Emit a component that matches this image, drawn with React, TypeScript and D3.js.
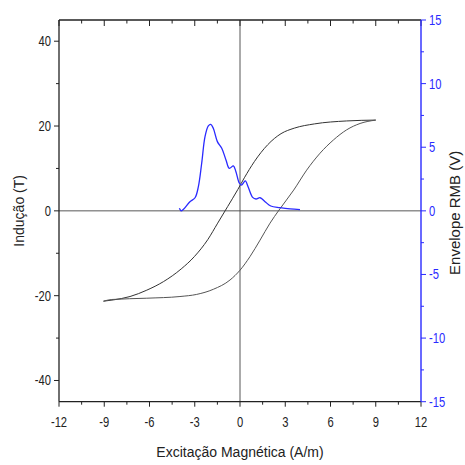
import React from "react";
import * as d3 from "d3";

// Hysteresis loop – descending branch (from +Hmax to -Hmax)
const loopDescH = [9.0, 7.07, 4.93, 3.6, 2.72, 1.84, 0.95, 0.29, -0.15, -0.82, -1.48, -2.14, -3.03, -3.9, -5.08, -6.18, -7.29, -8.4, -9.05];
const loopDescB = [21.4, 21.2, 20.5, 19.5, 18.2, 15.6, 11.6, 7.8, 5.0, 1.0, -2.9, -6.8, -10.8, -13.7, -16.7, -18.7, -20.2, -21.0, -21.3];
// Hysteresis loop – ascending branch (from -Hmax to +Hmax)
const loopAscH = [-9.05, -8.5, -6.18, -3.98, -2.87, -1.77, -0.66, 0.0, 0.66, 1.33, 1.99, 2.59, 3.56, 4.42, 5.31, 6.19, 7.07, 7.96, 9.0];
const loopAscB = [-21.3, -20.9, -20.6, -20.2, -19.7, -18.5, -16.3, -14.0, -10.8, -6.9, -2.9, 0.2, 4.9, 9.6, 13.6, 16.7, 19.1, 20.6, 21.4];
// Magnetic Barkhausen noise envelope
const envH = [-4.02, -3.9, -3.75, -3.32, -2.98, -2.76, -2.54, -2.32, -2.1, -1.94, -1.77, -1.5, -1.21, -0.93, -0.71, -0.44, -0.27, -0.04, 0.11, 0.35, 0.55, 0.84, 1.06, 1.33, 1.66, 2.04, 2.65, 3.32, 3.98];
const envV = [0.2, 0.0, 0.12, 0.72, 1.03, 1.9, 3.74, 5.83, 6.67, 6.8, 6.49, 5.44, 4.92, 4.0, 3.34, 3.53, 3.08, 2.17, 2.03, 2.35, 1.85, 1.06, 0.93, 1.03, 0.72, 0.38, 0.25, 0.15, 0.1];

const xTicks = [-12, -9, -6, -3, 0, 3, 6, 9, 12];
const xMinor = [-10.5, -7.5, -4.5, -1.5, 1.5, 4.5, 7.5, 10.5];
const yTicks = [-40, -20, 0, 20, 40];
const yMinor = [-30, -10, 10, 30];
const y2Ticks = [-15, -10, -5, 0, 5, 10, 15];
const y2Minor = [-12.5, -7.5, -2.5, 2.5, 7.5, 12.5];

const xTitle = "Excitação Magnética (A/m)";
const yTitle = "Indução (T)";
const y2Title = "Envelope RMB (V)";

const L = 59, R = 421, T = 20, B = 401.7;
const tickFont = "'Liberation Sans', Arial, sans-serif";
const titleFont = "'Liberation Sans', Arial, sans-serif";
const BLUE = "#2a2aff";
const SX = 0.8;

function Tick({ x, y, anchor, fill, children }: { x: number; y: number; anchor: string; fill: string; children: React.ReactNode }) {
  return (
    <text transform={`translate(${x},${y}) scale(${SX},1)`} textAnchor={anchor} fontFamily={tickFont} fontSize={14} fill={fill}>
      {children}
    </text>
  );
}

export default function App() {
  const x = d3.scaleLinear().domain([-12, 12]).range([L, R]);
  const y = d3.scaleLinear().domain([-45, 45]).range([B, T]);
  const y2 = d3.scaleLinear().domain([-15, 15]).range([B, T]);

  const line = d3.line<[number, number]>()
    .x((d) => x(d[0]))
    .y((d) => y(d[1]))
    .curve(d3.curveMonotoneX);
  const line2 = d3.line<[number, number]>()
    .x((d) => x(d[0]))
    .y((d) => y2(d[1]))
    .curve(d3.curveCatmullRom.alpha(0.5));

  const desc = loopDescH.map((h, i) => [h, loopDescB[i]] as [number, number]).sort((a, b) => a[0] - b[0]);
  const asc = loopAscH.map((h, i) => [h, loopAscB[i]] as [number, number]).sort((a, b) => a[0] - b[0]);
  const env = envH.map((h, i) => [h, envV[i]] as [number, number]);

  const axisColor = "#222";
  return (
    <svg width={465} height={465} style={{ position: "absolute", left: 0, top: 0, background: "#fff" }}>
      <rect x={0} y={0} width={465} height={465} fill="#fff" />
      {/* crosshair */}
      <line x1={L} x2={R} y1={y(0)} y2={y(0)} stroke="#444" strokeWidth={0.9} />
      <line x1={x(0)} x2={x(0)} y1={T} y2={B} stroke="#444" strokeWidth={0.9} />

      {/* loop */}
      <path d={line(desc) || ""} fill="none" stroke="#333" strokeWidth={1} />
      <path d={line(asc) || ""} fill="none" stroke="#555" strokeWidth={1} />
      {/* envelope */}
      <path d={line2(env) || ""} fill="none" stroke={BLUE} strokeWidth={1.3} />

      {/* top axis */}
      <line x1={L} x2={R} y1={T} y2={T} stroke={axisColor} strokeWidth={1.3} />
      {xTicks.map((t) => (
        <line key={"tt" + t} x1={x(t)} x2={x(t)} y1={T} y2={T + 6} stroke={axisColor} strokeWidth={1} />
      ))}
      {xMinor.map((t) => (
        <line key={"tm" + t} x1={x(t)} x2={x(t)} y1={T} y2={T + 3.5} stroke={axisColor} strokeWidth={1} />
      ))}

      {/* bottom axis */}
      <line x1={L} x2={R} y1={B} y2={B} stroke={axisColor} strokeWidth={1.3} />
      {xTicks.map((t) => (
        <g key={"bt" + t}>
          <line x1={x(t)} x2={x(t)} y1={B} y2={B + 5} stroke={axisColor} strokeWidth={1} />
          <Tick x={x(t)} y={B + 25} anchor="middle" fill="#222">{t}</Tick>
        </g>
      ))}
      {xMinor.map((t) => (
        <line key={"bm" + t} x1={x(t)} x2={x(t)} y1={B} y2={B + 3} stroke={axisColor} strokeWidth={1} />
      ))}

      {/* left axis */}
      <line x1={L} x2={L} y1={T} y2={B} stroke={axisColor} strokeWidth={1.3} />
      {yTicks.map((t) => (
        <g key={"lt" + t}>
          <line x1={L - 5} x2={L} y1={y(t)} y2={y(t)} stroke={axisColor} strokeWidth={1} />
          <Tick x={L - 8} y={y(t) + 5} anchor="end" fill="#222">{t}</Tick>
        </g>
      ))}
      {yMinor.map((t) => (
        <line key={"lm" + t} x1={L - 3} x2={L} y1={y(t)} y2={y(t)} stroke={axisColor} strokeWidth={1} />
      ))}

      {/* right axis */}
      <line x1={R} x2={R} y1={T} y2={B} stroke={BLUE} strokeWidth={1.4} />
      {y2Ticks.map((t) => (
        <g key={"rt" + t}>
          <line x1={R} x2={R + 5} y1={y2(t)} y2={y2(t)} stroke={BLUE} strokeWidth={1} />
          <Tick x={R + 8} y={y2(t) + 5} anchor="start" fill={BLUE}>{t}</Tick>
        </g>
      ))}
      {y2Minor.map((t) => (
        <line key={"rm" + t} x1={R} x2={R + 3} y1={y2(t)} y2={y2(t)} stroke={BLUE} strokeWidth={1} />
      ))}

      {/* titles */}
      <text x={(L + R) / 2} y={457} textAnchor="middle" fontFamily={titleFont} fontSize={14} fill="#222">{xTitle}</text>
      <text transform={`translate(24, ${(T + B) / 2}) rotate(-90)`} textAnchor="middle" fontFamily={titleFont} fontSize={14} fill="#222">{yTitle}</text>
      <text transform={`translate(460, ${(T + B) / 2 + 2}) rotate(-90)`} textAnchor="middle" fontFamily={titleFont} fontSize={15} fill="#222">{y2Title}</text>
    </svg>
  );
}
